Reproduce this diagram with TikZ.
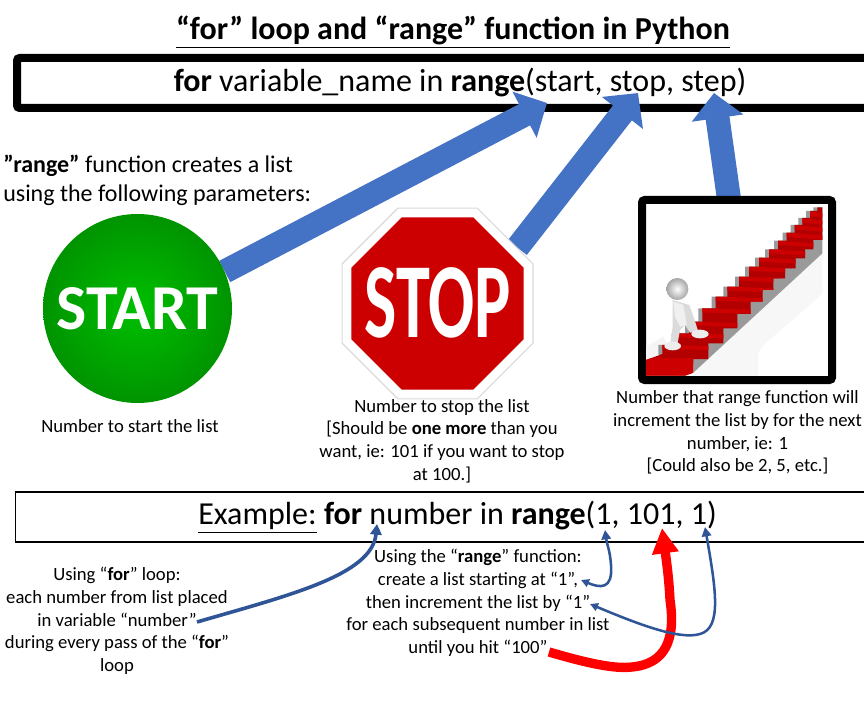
\documentclass[tikz,border=0pt]{standalone}
\usepackage{fontspec}
\setmainfont{Carlito}
\usetikzlibrary{positioning, arrows.meta, shapes.geometric, backgrounds}
\definecolor{arrowblue}{HTML}{4472C4}
\definecolor{linkblue}{HTML}{2F5597}
\definecolor{stopred}{HTML}{CC0000}
\definecolor{stairgray}{HTML}{9A9A9A}
\tikzset{
	titletext/.style={font=\fontsize{24}{28}\bfseries\selectfont},
	codetext/.style={font=\fontsize{24}{28}\selectfont},
	note/.style={font=\fontsize{14}{17}\selectfont, align=center, inner sep=0},
	bigarrow/.style={draw=arrowblue, line width=18pt, -{Triangle[length=19pt,width=38pt]}},
	thinarrow/.style={draw=linkblue, line width=2.7pt, -{Triangle[length=8pt,width=8.5pt]}},
	bothways/.style={draw=linkblue, line width=1.9pt, {Triangle[length=6pt,width=6pt]}-{Triangle[length=7pt,width=7pt]}},
	redarrow/.style={draw=red, line width=7pt, -{Triangle[length=19pt,width=19pt]}},
}
\begin{document}
\begin{tikzpicture}[x=0.75pt, y=-0.75pt]
	\useasboundingbox (0, 0) rectangle (864, 720);
	\clip (0, 0) rectangle (864, 720);

	% Main parts
	\node[titletext] (title) at (453, 32) {\underline{“for” loop and “range” function in Python}};
	\node[circle, minimum size=141.75pt, inner sep=0, shading=radial, inner color=green!75!black, outer color=green!58!black,
		text=white, font=\fontsize{48}{52}\bfseries\selectfont] (start) at (137.5, 308.5) {START};
	\node[regular polygon, regular polygon sides=8, minimum size=155pt, fill=white, draw=black!15, line width=0.8pt] (stopplate) at (437.5, 303.5) {};
	\node[regular polygon, regular polygon sides=8, minimum size=140pt, fill=stopred, inner sep=0,
		text=white, font=\fontsize{80}{84}\bfseries\selectfont] (stop) at (437.5, 303.5) {\makebox[0pt]{\raisebox{-25.8pt}[0pt][0pt]{\scalebox{0.64}[1]{STOP}}}};
	\node[draw, fill=white, line width=6pt, rounded corners=2pt, minimum width=142.5pt, minimum height=135pt, outer sep=0] (stepframe) at (737, 290) {};

	% Stairs inside the frame
	\begin{scope}[shift={(630, 190)}, x=0.25pt, y=-0.25pt]
		\fill[black!3] (190, 548) -- (577, 190) -- (577, 310) -- (545, 340) -- (400, 465) -- (385, 490) -- (385, 557) -- (190, 557) -- cycle;
		\fill[black!4] (48, 510) -- (48, 470) -- (100, 440) -- (120, 480) -- cycle;
		\fill[stairgray] (85, 495) -- (85, 465)
			\foreach \lx/\ly in {125/430,165/395,205/355,245/320,280/290,315/260,345/230,375/203,405/178,432/152,458/128,482/105,505/84,528/63,550/52} { -| (\lx, \ly) }
			-- (577, 52) -- (577, 190) -- (190, 548) -- (190, 520) -- cycle;
		\begin{scope}
			\clip (48, 510) -- (97, 492) -- (97, 465)
				\foreach \lx/\ly in {125/430,165/395,205/355,245/320,280/290,315/260,345/230,375/203,405/178,432/152,458/128,482/105,505/84,528/63,550/52} { -| (\lx+12, \ly) }
				-- (577, 52) -- (577, 150) -- (550, 150) |- (525, 178) |- (497, 205) |- (465, 235) |- (430, 265) |- (398, 300) |- (362, 335) |- (322, 372) |- (280, 415) |- (235, 460) |- (190, 507)
				-- (190, 548) -- (165, 557) -- (48, 557) -- cycle;
			\fill[red!70!black] (40, 40) rectangle (590, 570);
			\foreach \lx/\ly in {85/465,125/430,165/395,205/355,245/320,280/290,315/260,345/230,375/203,405/178,432/152,458/128,482/105,505/84,528/63}
				\fill[stopred] (\lx, \ly) -- (600, \ly+10) -- (600, \ly+22) -- (\lx, \ly+12) -- cycle;
			\fill[stopred] (40, 505) rectangle (190, 570);
		\end{scope}
		% The small man
		\fill[black!14] (128, 330) -- (178, 345) -- (192, 385) -- (205, 425) -- (180, 428) -- (165, 405) -- (150, 420) -- (142, 465) -- (120, 465) -- (128, 410) -- cycle;
		\fill[black!6] (130, 335) -- (160, 345) -- (170, 405) -- (150, 410) -- (135, 380) -- cycle;
		\fill[black!7] (210, 432) ellipse (26 and 13);
		\fill[black!7] (128, 468) ellipse (25 and 13);
		\shade[inner color=white, outer color=black!35] (142, 297) circle (33);
	\end{scope}

	% Text
	\node[note, align=left, anchor=north west, font=\fontsize{18}{21.75}\selectfont] (rangenote) at (3, 155) {\textbf{”range”} function creates a list\\using the following parameters:};
	\node[note] (startnote) at (130, 426) {Number to start the list};
	\node[note] (stopnote) at (442, 441) {Number to stop the list\\{}[Should be \textbf{one more} than you\\want, ie: 101 if you want to stop\\at 100.]};
	\node[note] (stepnote) at (737.5, 432.5) {Number that range function will\\increment the list by for the next\\number, ie: 1\\{}[Could also be 2, 5, etc.]};
	\node[draw, line width=1.1pt, codetext, minimum width=663pt, minimum height=37.5pt] (examplebox) at (457.5, 517) {\underline{Example:} \textbf{for} number in \textbf{range}(1, 101, 1)};
	\node[note] (fornote) at (117, 621) {Using “\textbf{for}” loop:\\each number from list placed\\in variable “number”\\during every pass of the “\textbf{for}”\\loop};
	\node[note] (listnote) at (478, 603) {Using the “\textbf{range}” function:\\create a list starting at “1”,\\then increment the list by “1”\\for each subsequent number in list\\until you hit “100”};

	% End points of the connectors
	\coordinate (starttip) at (547, 103);
	\coordinate (stoptip) at (638, 93);
	\coordinate (steptip) at (714, 93);
	\coordinate (fortail) at (197, 622);
	\coordinate (fortip) at (377, 524);
	\coordinate (onetail) at (581, 580);
	\coordinate (onetip) at (605, 530);
	\coordinate (inctail) at (590, 604);
	\coordinate (inctip) at (705, 527);
	\coordinate (hundredtail) at (549, 652);
	\coordinate (hundredtip) at (662, 528);

	% Block arrows run behind the signs
	\begin{scope}[on background layer]
		\node[draw, line width=6pt, rounded corners=2pt, minimum width=664.5pt, minimum height=37.5pt, codetext] (forbar) at (460, 83) {\raisebox{2.5pt}{\textbf{for} variable\_name in \textbf{range}(start, stop, step)}};
		\draw[bigarrow] (start.23) -- (starttip);
		\draw[bigarrow] (stopplate.35) -- (stoptip);
		\draw[bigarrow] (stepframe.95) -- (steptip);
	\end{scope}

	% Small curved arrows
	\draw[thinarrow] (fortail) .. controls (290, 595) and (372, 575) .. (fortip);
	\draw[redarrow] (hundredtail) .. controls (590, 664) and (615, 669) .. (632, 667) .. controls (665, 664) and (676, 640) .. (670, 600) .. controls (669, 580) and (667, 565) .. (hundredtip);
	\draw[bothways] (onetail) .. controls (600, 588) and (613, 590) .. (611, 565) .. controls (610, 550) and (607, 545) .. (onetip);
	\draw[bothways] (inctail) .. controls (640, 625) and (680, 640) .. (700, 634) .. controls (722, 628) and (716, 590) .. (inctip);
\end{tikzpicture}
\end{document}
